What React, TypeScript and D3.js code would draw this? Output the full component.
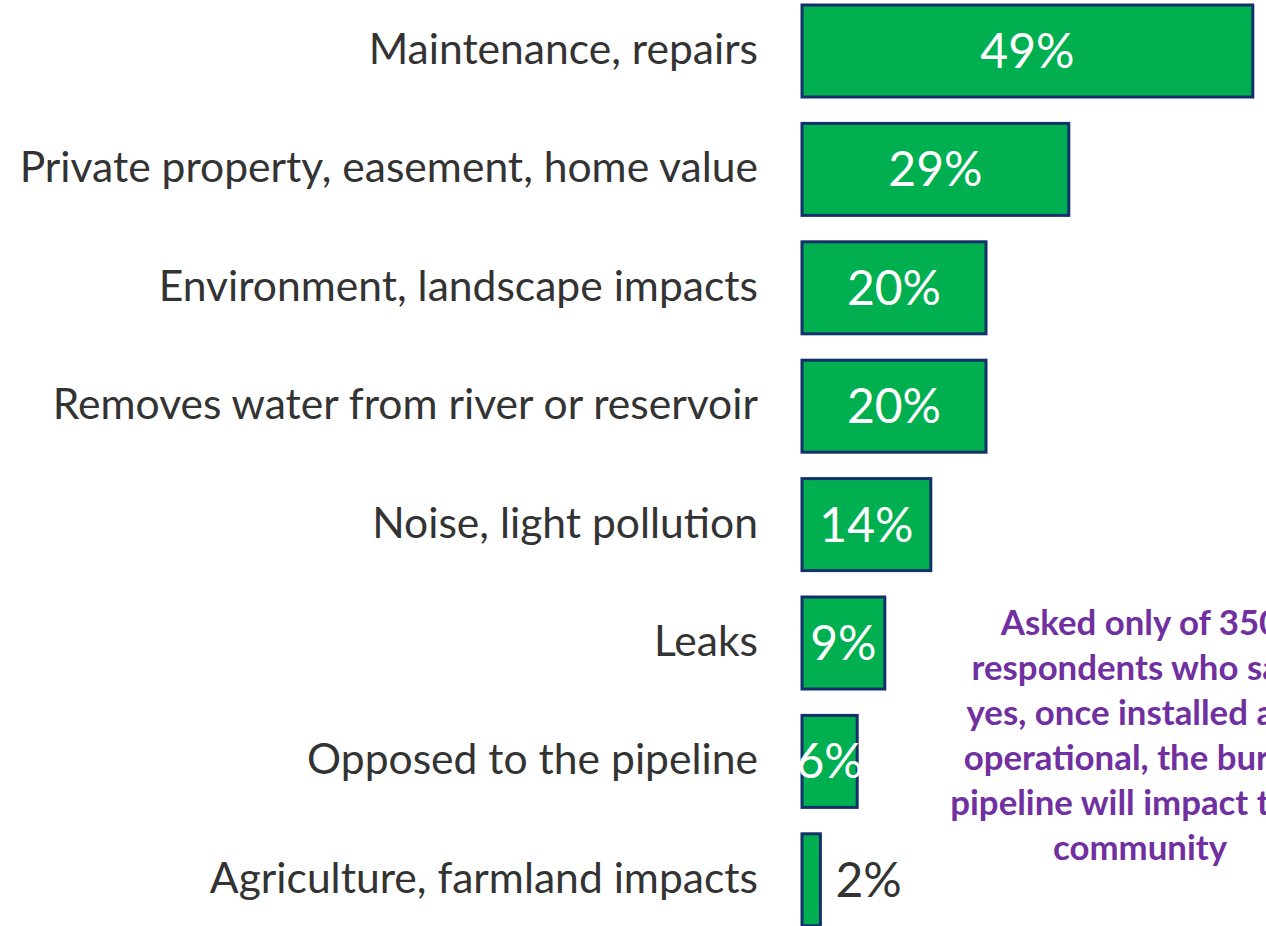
import React from "react";
import * as d3 from "d3";

const categories = [
  "Maintenance, repairs",
  "Private property, easement, home value",
  "Environment, landscape impacts",
  "Removes water from river or reservoir",
  "Noise, light pollution",
  "Leaks",
  "Opposed to the pipeline",
  "Agriculture, farmland impacts",
];
const values = [49, 29, 20, 20, 14, 9, 6, 2];
const noteLines = [
  "Asked only of 350",
  "respondents who said",
  "yes, once installed and",
  "operational, the buried",
  "pipeline will impact their",
  "community",
];

const W = 1266;
const H = 926;
const FONT = "Lato, 'Open Sans', sans-serif";

export default function App() {
  const y = d3.scaleBand<string>().domain(categories).range([5, 925.8]).paddingInner(0.223).paddingOuter(0);
  const x = d3.scaleLinear().domain([0, 100]).range([802, 1722]);
  const bw = y.bandwidth();
  return (
    <svg width={W} height={H} style={{ position: "absolute", left: 0, top: 0, background: "#fff" }}>
      {categories.map((c, i) => {
        const y0 = y(c)!;
        const cy = y0 + bw / 2;
        const v = values[i];
        const x1 = x(v);
        const inside = v >= 5;
        return (
          <g key={c}>
            <text x={758} y={cy + 13} textAnchor="end" fontFamily={FONT} fontSize={42.6} fill="#333333">
              {c}
            </text>
            <rect x={x(0)} y={y0} width={x1 - x(0)} height={bw} fill="#00b050" stroke="#13306b" strokeWidth={3} />
            <text
              x={inside ? (x(0) + x1) / 2 : x1 + 15}
              y={cy + 17}
              textAnchor={inside ? "middle" : "start"}
              fontFamily={FONT}
              fontSize={48}
              fill={inside ? "#ffffff" : "#333333"}
            >
              {v}%
            </text>
          </g>
        );
      })}
      {noteLines.map((t, i) => (
        <text key={i} x={1140} y={635 + i * 45} textAnchor="middle" fontFamily={FONT} fontWeight={700} fontSize={34.8} fill="#7030a0">
          {t}
        </text>
      ))}
    </svg>
  );
}
